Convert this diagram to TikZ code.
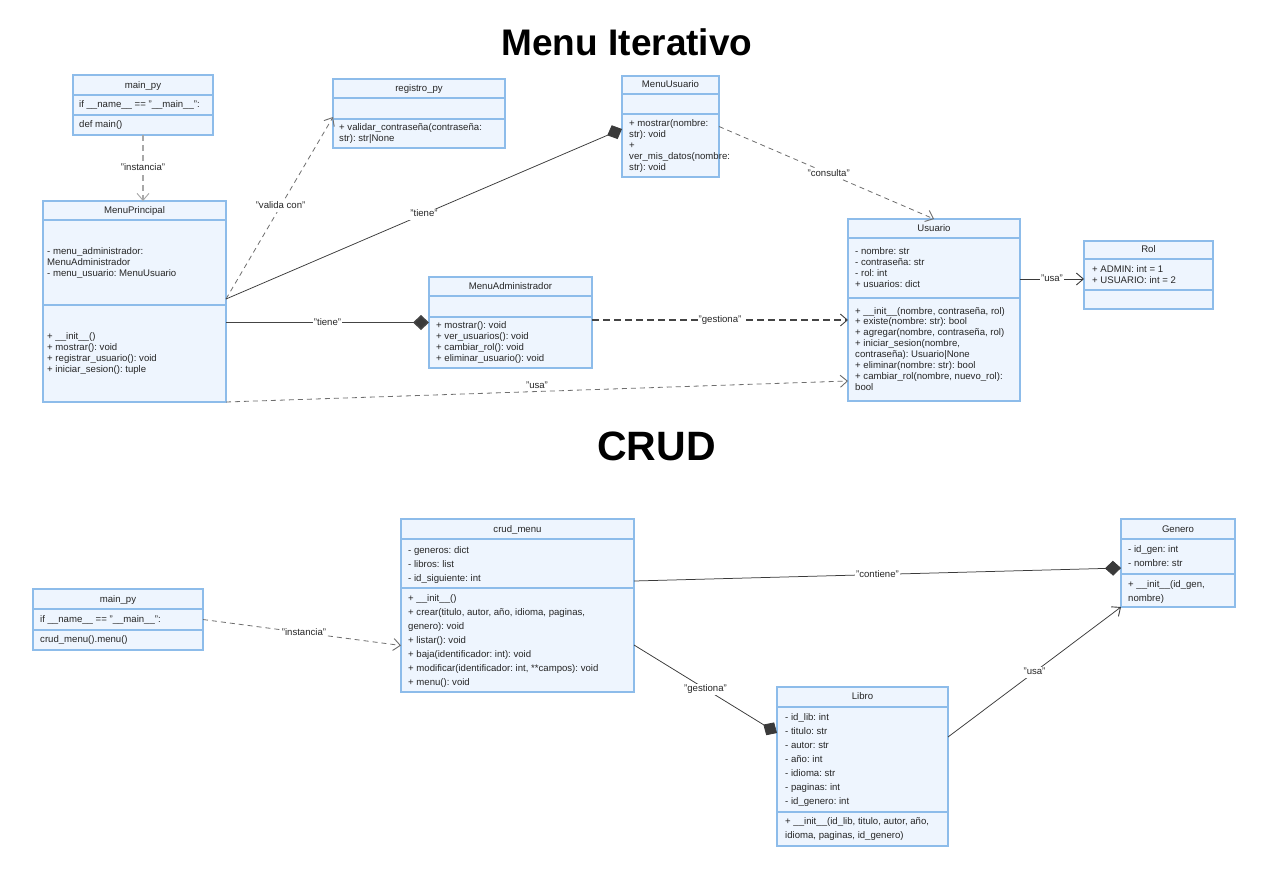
\documentclass[tikz,border=0pt]{standalone}
\usepackage{fontspec}
\setmainfont{Liberation Sans}
\usetikzlibrary{arrows.meta}
\frenchspacing
\definecolor{boxfill}{HTML}{EEF5FE}
\definecolor{boxline}{HTML}{8DBCEA}
\definecolor{txtc}{HTML}{262626}
\definecolor{linec}{HTML}{3A3A3A}
\definecolor{dashgray}{HTML}{6E6E6E}
\definecolor{dashdark}{HTML}{444444}
\definecolor{lightdash}{HTML}{A8A8A8}
\tikzset{
  cls/.style={draw=boxline, fill=boxfill, line width=1.1pt, inner sep=0pt, outer sep=0pt},
  divline/.style={draw=boxline, line width=1.1pt},
  mem/.style={anchor=west, inner sep=0pt, text height=7pt, text depth=2pt, font=\fontsize{9.6}{11}\selectfont, text=txtc},
  ctitle/.style={inner sep=0pt, text height=7pt, text depth=2pt, font=\fontsize{9.6}{11}\selectfont, text=txtc},
  lbl/.style={fill=white, inner sep=1pt, text height=7pt, text depth=2pt, font=\fontsize{9.6}{11}\selectfont, text=txtc},
  lblnf/.style={inner sep=1pt, text height=7pt, text depth=2pt, font=\fontsize{9.6}{11}\selectfont, text=txtc},
  solidc/.style={draw=linec, line width=0.75pt},
  solidthick/.style={draw=dashdark, line width=1.6pt},
  dep/.style={draw=dashgray, line width=0.8pt, dash pattern=on 5pt off 4pt},
  depdark/.style={draw=dashdark, line width=1.2pt, dash pattern=on 7pt off 4pt},
  deplight/.style={draw=lightdash, line width=1.2pt, dash pattern=on 6pt off 4pt},
  openhead/.style={-{Straight Barb[length=7pt,width=12pt,line width=0.9pt]}},
  comphead/.style={-{Diamond[length=16pt,width=15pt,fill=linec]}},
  bigtitle/.style={inner sep=0pt, text=black, font=\fontsize{37}{44}\bfseries\selectfont},
  bigtitleb/.style={inner sep=0pt, text=black, font=\fontsize{41}{48}\bfseries\selectfont}
}
\newcommand\umlclass[6]{%
  \node[cls, anchor=north west, minimum width={#4pt-#2pt}, minimum height={#5pt-#3pt}] (#1) at (#2,#3) {};
  \foreach \d in {#6} {\draw[divline] (#2,\d) -- (#4,\d);}
}
\newcommand\members[5]{%
  \foreach \t [count=\i] in {#5} {\node[mem] (#1-\i) at (#2,{#3+(\i-1)*#4}) {\t};}
}
\begin{document}
\begin{tikzpicture}[x=1pt,y=-1pt]
\useasboundingbox[fill=white] (0,0) rectangle (1280,887);

% titles
\node[bigtitle, anchor=base] (t1) at (627,55) {Menu Iterativo};
\node[bigtitleb, anchor=base] (t2) at (656.5,460) {CRUD};

% ---------- top diagram ----------
\umlclass{mainA}{73}{75}{213}{135}{95,115}
\node[ctitle] (mainA-t) at (143,86) {main\_py};
\members{mainA}{79}{105}{20}{{if \_\_name\_\_ == "\_\_main\_\_":},{def main()}}

\umlclass{mp}{43}{201}{226}{402}{220,305}
\node[ctitle] (mp-t) at (134.5,211) {MenuPrincipal};
\members{mpa}{47}{252}{11}{{- menu\_administrador:},{MenuAdministrador},{- menu\_usuario: MenuUsuario}}
\members{mpb}{47}{337}{11}{{+ \_\_init\_\_()},{+ mostrar(): void},{+ registrar\_usuario(): void},{+ iniciar\_sesion(): tuple}}

\umlclass{reg}{333}{79}{505}{148}{98,119}
\node[ctitle] (reg-t) at (419,89) {registro\_py};
\members{reg}{339}{128}{11}{{+ validar\_contraseña(contraseña:},{str): str|None}}

\umlclass{mu}{622}{76}{719}{177}{94,114}
\node[ctitle] (mu-t) at (670.5,85) {MenuUsuario};
\members{mu}{629}{124}{11}{{+ mostrar(nombre:},{str): void},{+},{ver\_mis\_datos(nombre:},{str): void}}

\umlclass{ma}{429}{277}{592}{368}{296,317}
\node[ctitle] (ma-t) at (510.5,287) {MenuAdministrador};
\members{ma}{436}{326}{11}{{+ mostrar(): void},{+ ver\_usuarios(): void},{+ cambiar\_rol(): void},{+ eliminar\_usuario(): void}}

\umlclass{us}{848}{219}{1020}{401}{238,298}
\node[ctitle] (us-t) at (934,229) {Usuario};
\members{usa}{855}{252}{11}{{- nombre: str},{- contraseña: str},{- rol: int},{+ usuarios: dict}}
\members{usb}{855}{311.5}{10.9}{{+ \_\_init\_\_(nombre, contraseña, rol)},{+ existe(nombre: str): bool},{+ agregar(nombre, contraseña, rol)},{+ iniciar\_sesion(nombre,},{contraseña): Usuario|None},{+ eliminar(nombre: str): bool},{+ cambiar\_rol(nombre, nuevo\_rol):},{bool}}

\umlclass{rol}{1084}{241}{1213}{309}{259,290}
\node[ctitle] (rol-t) at (1148.5,250) {Rol};
\members{rol}{1092}{270}{11}{{+ ADMIN: int = 1},{+ USUARIO: int = 2}}

% top connectors
\draw[deplight, openhead] (mainA.south) -- node[lbl]{"instancia"} (mainA.south |- mp.north);
\draw[dep, openhead] ([yshift=2.5pt]mp.east) -- node[lbl, pos=0.51]{"valida con"} ([yshift=-3.5pt]reg.west);
\draw[solidc, comphead] ([yshift=2.5pt]mp.east) -- node[lbl, pos=0.5]{"tiene"} ([yshift=-2.5pt]mu.west);
\draw[solidthick, comphead] (mp.east |- ma.west) -- node[lbl]{"tiene"} (ma.west);
\draw[dep, openhead] (mp.south east) -- node[lblnf, pos=0.5, yshift=6pt]{"usa"} ([yshift=-71pt]us.west);
\draw[depdark, openhead] ([yshift=2.5pt]ma.east) -- node[lbl]{"gestiona"} ([yshift=-10pt]us.west);
\draw[dep, openhead] (mu.east) -- node[lbl, pos=0.51]{"consulta"} (us.north);
\draw[solidc, openhead] ([yshift=31pt]us.east) -- node[lbl]{"usa"} ([yshift=31pt]us.east -| rol.west);

% ---------- bottom diagram ----------
\umlclass{mainB}{33}{589}{203}{650}{609,630}
\node[ctitle] (mainB-t) at (118,600) {main\_py};
\members{mainB}{40}{620}{20}{{if \_\_name\_\_ == "\_\_main\_\_":},{crud\_menu().menu()}}

\umlclass{crud}{401}{519}{634}{692}{539,588}
\node[ctitle] (crud-t) at (517.5,530) {crud\_menu};
\members{cruda}{408}{550.5}{14.2}{{- generos: dict},{- libros: list},{- id\_siguiente: int}}
\members{crudb}{408}{599}{14}{{+ \_\_init\_\_()},{+ crear(titulo, autor, año, idioma, paginas,},{genero): void},{+ listar(): void},{+ baja(identificador: int): void},{+ modificar(identificador: int, **campos): void},{+ menu(): void}}

\umlclass{gen}{1121}{519}{1235}{607}{539,574}
\node[ctitle] (gen-t) at (1178,530) {Genero};
\members{gena}{1128}{550}{14}{{- id\_gen: int},{- nombre: str}}
\members{genb}{1128}{585}{13.5}{{+ \_\_init\_\_(id\_gen,},{nombre)}}

\umlclass{lib}{777}{687}{948}{846}{707,812}
\node[ctitle] (lib-t) at (862.5,697) {Libro};
\members{liba}{785}{718}{14}{{- id\_lib: int},{- titulo: str},{- autor: str},{- año: int},{- idioma: str},{- paginas: int},{- id\_genero: int}}
\members{libb}{785}{822}{14}{{+ \_\_init\_\_(id\_lib, titulo, autor, año,},{idioma, paginas, id\_genero)}}

% bottom connectors
\draw[dep, openhead] (mainB.east) -- node[lbl, pos=0.51]{"instancia"} ([yshift=-40pt]crud.west);
\draw[solidc, comphead] ([yshift=24.5pt]crud.east) -- node[lbl]{"contiene"} ([yshift=-5pt]gen.west);
\draw[solidc, comphead] ([yshift=-39.5pt]crud.east) -- node[lbl]{"gestiona"} ([yshift=33.5pt]lib.west);
\draw[solidc, openhead] ([yshift=29.5pt]lib.east) -- node[lbl]{"usa"} (gen.south west);
\end{tikzpicture}
\end{document}
